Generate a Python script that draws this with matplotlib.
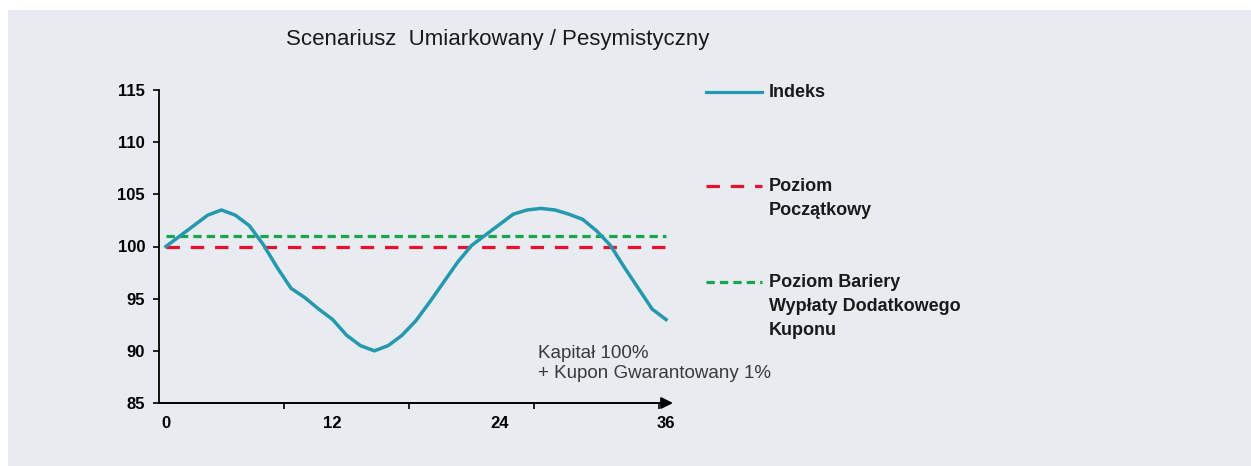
import matplotlib.pyplot as plt
from matplotlib.lines import Line2D
from matplotlib.patches import Rectangle

months = list(range(37))
indeks = [100.0, 101.0, 102.0, 103.0, 103.5, 103.0, 102.0, 100.2, 98.0, 96.0,
          95.1, 94.0, 93.0, 91.5, 90.5, 90.0, 90.5, 91.5, 92.9, 94.7,
          96.6, 98.5, 100.1, 101.1, 102.1, 103.1, 103.5, 103.65, 103.5, 103.1,
          102.6, 101.5, 100.1, 98.0, 96.0, 94.0, 93.0]
poziom_poczatkowy = 100
poziom_bariery = 101

title = 'Scenariusz  Umiarkowany / Pesymistyczny'
legend_labels = ['Indeks', 'Poziom\nPoczątkowy', 'Poziom Bariery\nWypłaty Dodatkowego\nKuponu']
note = 'Kapitał 100%\n+ Kupon Gwarantowany 1%'
x_labels = [0, 12, 24, 36]
y_ticks = [85, 90, 95, 100, 105, 110, 115]

teal = '#2398AE'
red = '#E8112D'
green = '#16A64C'
bg = '#E8EBF0'

plt.rcParams['font.family'] = ['Liberation Sans Narrow', 'Liberation Sans', 'DejaVu Sans']

fig = plt.figure(figsize=(12.51, 4.66), dpi=100)
fig.patch.set_facecolor('white')
fig.add_artist(Rectangle((8 / 1251, 0), 1, 1 - 10 / 466, transform=fig.transFigure,
                         facecolor=bg, edgecolor='none', zorder=0))

ax = fig.add_axes([159 / 1251, 63 / 466, (673 - 159) / 1251, (403 - 90) / 466])
ax.set_facecolor('none')

ax.plot(months, indeks, color=teal, lw=2.5, zorder=3, solid_joinstyle='round')
ax.plot([months[0], months[-1]], [poziom_poczatkowy] * 2, color=red, lw=2.3,
        dashes=(4.2, 3.4), zorder=2)
ax.plot([months[0], months[-1]], [poziom_bariery] * 2, color=green, lw=2.3,
        dashes=(2.6, 1.6), zorder=2)

ax.set_xlim(-0.5, 36.5)
ax.set_ylim(85, 115)

for s in ['top', 'right', 'bottom']:
    ax.spines[s].set_visible(False)
ax.spines['left'].set_linewidth(1.3)

ax.set_yticks(y_ticks)
ax.tick_params(axis='y', direction='out', length=4, width=1.2, pad=6,
               labelsize=12)
for lab in ax.get_yticklabels():
    lab.set_fontweight('bold')

ax.set_xticks(x_labels)
ax.set_xticks([8.5, 17.5, 26.5, 35.5], minor=True)
ax.tick_params(axis='x', which='major', length=0, pad=9, labelsize=12)
ax.tick_params(axis='x', which='minor', direction='out', length=4, width=1.2)
for lab in ax.get_xticklabels():
    lab.set_fontweight('bold')

# x axis with arrow
ax.annotate('', xy=(1.0, 0), xytext=(0, 0), xycoords='axes fraction',
            arrowprops=dict(arrowstyle='-|>,head_length=0.7,head_width=0.35',
                            color='black', lw=1.4, shrinkA=0, shrinkB=0))

ax.text(26.8, 90.6, note, fontsize=13.5, color='#3a3a3a', va='top', ha='left',
        linespacing=1.25)

fig.text(498 / 1251, 1 - 40 / 466, title, fontsize=16, ha='center', va='center',
         color='#1a1a1a')

# legend drawn by hand
handles = [dict(color=teal, dashes=None), dict(color=red, dashes=(4.2, 3.4)),
           dict(color=green, dashes=(2.6, 1.6))]
legend_y = [92, 186, 282]
for h, lbl, py in zip(handles, legend_labels, legend_y):
    yf = 1 - py / 466
    ln = Line2D([706 / 1251, 762 / 1251], [yf, yf], transform=fig.transFigure,
                color=h['color'], lw=2.3)
    if h['dashes']:
        ln.set_dashes(h['dashes'])
    fig.add_artist(ln)
    fig.text(769 / 1251, yf + 8 / 466, lbl, fontsize=13, fontweight='bold',
             va='top', ha='left', color='#1a1a1a', linespacing=1.55)

fig.savefig('out.png', dpi=100)
